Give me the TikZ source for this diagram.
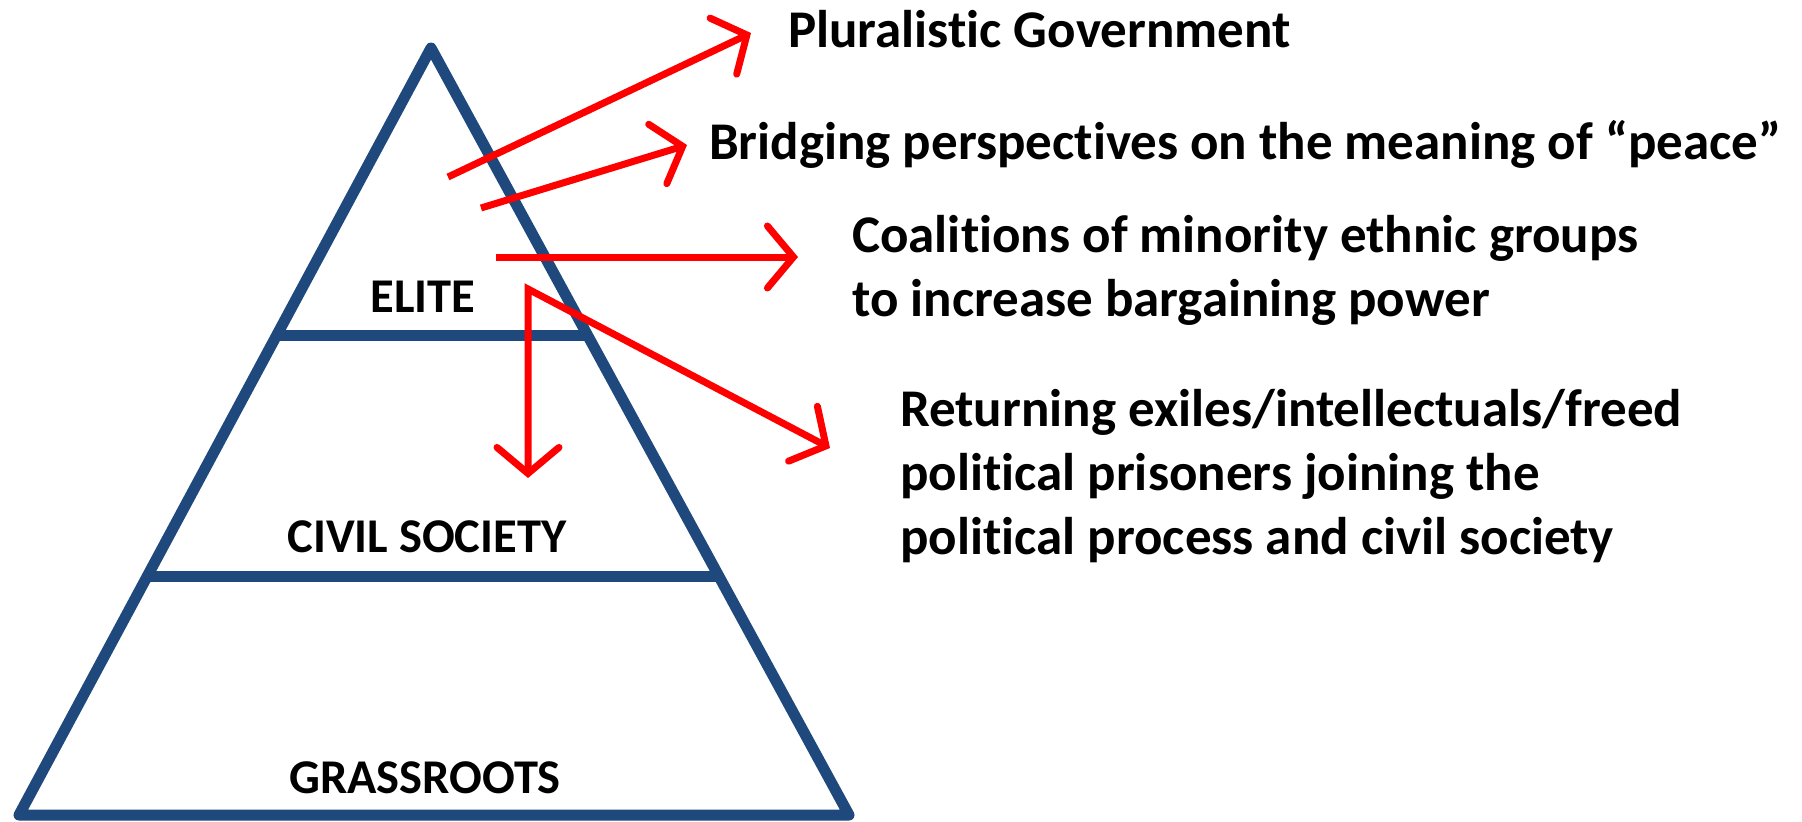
\documentclass[tikz,border=0pt]{standalone}
\usepackage{fontspec}
\setmainfont{Carlito}[Ligatures={NoCommon}]
\usetikzlibrary{arrows.meta,calc}
\definecolor{pyr}{RGB}{31,73,125}
\definecolor{arr}{RGB}{255,0,0}
\tikzset{
  pyrline/.style={draw=pyr,line width=11pt,line join=round},
  redarrow/.style={draw=arr,line width=7pt,-{Straight Barb[length=26pt,width=62pt,line cap=round]}},
  lvl/.style={font=\fontsize{48.5}{56}\selectfont\bfseries,inner sep=0pt},
  item/.style={font=\fontsize{53}{64}\selectfont\bfseries,inner sep=0pt,anchor=west,align=left}
}
\begin{document}
\begin{tikzpicture}[x=1pt,y=-1pt]
\useasboundingbox (0,0) rectangle (1802,822);
% pyramid
\coordinate (apex) at (431,48);
\coordinate (bl) at (19,815);
\coordinate (br) at (849,815);
\draw[pyrline] (apex) -- (br) -- (bl) -- cycle;
\coordinate (l1a) at ($(apex)!0.375!(bl)$);
\coordinate (l1b) at ($(apex)!0.375!(br)$);
\coordinate (l2a) at ($(apex)!0.689!(bl)$);
\coordinate (l2b) at ($(apex)!0.689!(br)$);
\draw[pyrline,line join=miter] (l1a) -- (l1b);
\draw[pyrline,line join=miter] (l2a) -- (l2b);
% level labels
\node[lvl] (elite) at (423,297) {ELITE};
\node[lvl] (civil) at (427,537) {CIVIL SOCIETY};
\node[lvl] (grass) at (425,778) {GRASSROOTS};
% texts
\node[item] (t1) at (788,29) {Pluralistic Government};
\node[item] (t2) at (709,144) {Bridging perspectives on the meaning of “peace”};
\node[item] (t3) at (852,270) {Coalitions of minority ethnic groups\\to increase bargaining power};
\node[item] (t4) at (900,476) {Returning exiles/intellectuals/freed\\political prisoners joining the\\political process and civil society};
% arrows
\coordinate (s1) at (448,177);
\coordinate (e1) at (751,33);
\coordinate (s2) at (481,208);
\coordinate (e2) at (687,145);
\coordinate (s3) at (496,257);
\coordinate (e3) at (798,257);
\coordinate (c4) at (528,289);
\coordinate (d4) at (528,478);
\coordinate (e4) at (830,448);
\draw[redarrow] (s1) -- (e1);
\draw[redarrow] (s2) -- (e2);
\draw[redarrow] (s3) -- (e3);
\draw[redarrow,{Straight Barb[length=26pt,width=62pt,line cap=round]}-{Straight Barb[length=26pt,width=62pt,line cap=round]}] (d4) -- (c4) -- (e4);
\end{tikzpicture}
\end{document}
